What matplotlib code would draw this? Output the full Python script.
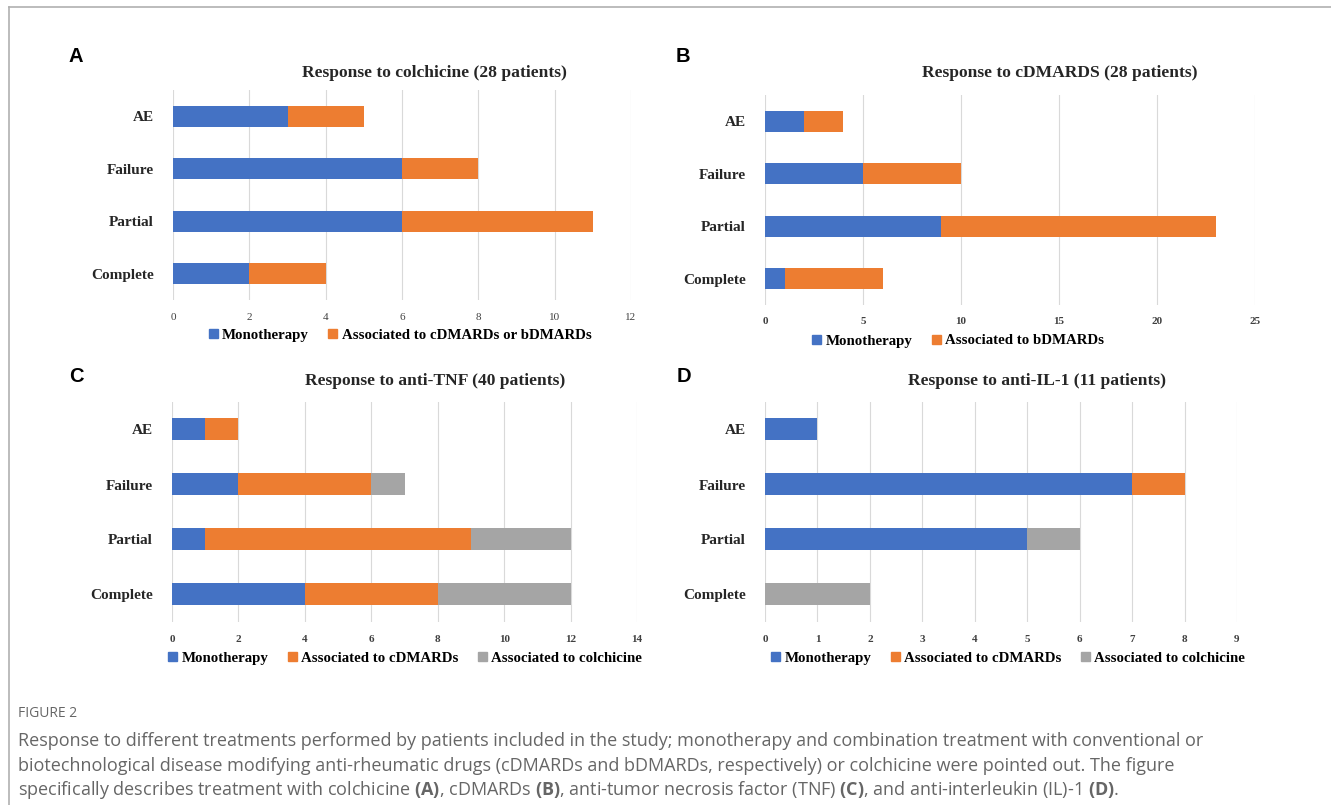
import numpy as np
import matplotlib.pyplot as plt
from matplotlib.patches import Patch

# categories, top to bottom
categories = ["AE", "Failure", "Partial", "Complete"]

# A - colchicine
a_mono = [3, 6, 6, 2]
a_assoc = [2, 2, 5, 2]
# B - cDMARDs
b_mono = [2, 5, 9, 1]
b_assoc = [2, 5, 14, 5]
# C - anti-TNF
c_mono = [1, 2, 1, 4]
c_cdmard = [1, 4, 8, 4]
c_colch = [0, 1, 3, 4]
# D - anti-IL-1
d_mono = [1, 7, 5, 0]
d_cdmard = [0, 1, 0, 0]
d_colch = [0, 0, 1, 2]

blue = "#4472C4"
orange = "#ED7D31"
grey = "#A5A5A5"
serif = "Liberation Serif"

plt.rcParams["mathtext.fontset"] = "custom"
plt.rcParams["mathtext.bf"] = "Open Sans:bold"
plt.rcParams["mathtext.rm"] = "Open Sans"

fig = plt.figure(figsize=(13.31, 8.05), dpi=100)
W, H = 1331.0, 805.0


def px_axes(left, top, right, bottom):
    return fig.add_axes([left / W, 1 - bottom / H, (right - left) / W, (bottom - top) / H])


def panel(ax, series, colors, xmax, step, bold_ticks):
    y = np.arange(len(categories))
    left = np.zeros(len(categories))
    for vals, col in zip(series, colors):
        ax.barh(y, vals, left=left, height=0.4, color=col, zorder=3)
        left = left + np.array(vals)
    ax.set_ylim(3.5, -0.5)
    ax.set_xlim(0, xmax)
    ax.set_xticks(np.arange(0, xmax + 0.01, step))
    ax.set_yticks(y)
    ax.set_yticklabels(categories, fontfamily=serif, fontweight="bold", fontsize=11, color="#262626")
    for lab in ax.get_xticklabels():
        lab.set_fontfamily(serif)
        lab.set_fontsize(8)
        lab.set_color("#404040")
        if bold_ticks:
            lab.set_fontweight("bold")
    ax.tick_params(length=0, pad=9)
    ax.tick_params(axis="y", pad=14)
    ax.grid(axis="x", color="#d9d9d9", linewidth=0.8, zorder=0)
    for s in ax.spines.values():
        s.set_visible(False)


def legend(names, colors, x, y):
    handles = [Patch(color=c) for c in colors]
    fig.legend(handles, names, loc="center", bbox_to_anchor=(x / W, 1 - y / H), ncol=len(names),
               frameon=False, handlelength=0.6, handleheight=0.6, handletextpad=0.3,
               columnspacing=1.3, prop={"family": serif, "weight": "bold", "size": 10.7})


axA = px_axes(173, 90, 631, 300)
panel(axA, [a_mono, a_assoc], [blue, orange], 12, 2, False)
axB = px_axes(765, 95, 1255, 305)
panel(axB, [b_mono, b_assoc], [blue, orange], 25, 5, True)
axC = px_axes(172, 402, 637, 622)
panel(axC, [c_mono, c_cdmard, c_colch], [blue, orange, grey], 14, 2, True)
axD = px_axes(765, 402, 1237, 622)
panel(axD, [d_mono, d_cdmard, d_colch], [blue, orange, grey], 9, 1, True)

titles = [("Response to colchicine (28 patients)", 434, 73),
          ("Response to cDMARDS (28 patients)", 1060, 73),
          ("Response to anti-TNF (40 patients)", 435, 381),
          ("Response to anti-IL-1 (11 patients)", 1037, 381)]
for t, x, y in titles:
    fig.text(x / W, 1 - y / H, t, ha="center", va="center", fontfamily=serif,
             fontweight="bold", fontsize=12.6, color="#262626")

for lab, x, y in [("A", 76, 56), ("B", 683, 56), ("C", 76, 376), ("D", 684, 376)]:
    fig.text(x / W, 1 - y / H, lab, ha="center", va="center", fontfamily="Liberation Sans",
             fontweight="bold", fontsize=14.5, color="black")

legend(["Monotherapy", "Associated to cDMARDs or bDMARDs"], [blue, orange], 400, 335)
legend(["Monotherapy", "Associated to bDMARDs"], [blue, orange], 958, 341)
legend(["Monotherapy", "Associated to cDMARDs", "Associated to colchicine"], [blue, orange, grey], 405, 658)
legend(["Monotherapy", "Associated to cDMARDs", "Associated to colchicine"], [blue, orange, grey], 1008, 658)

# frame lines (left and top)
fig.add_artist(plt.Line2D([9 / W, 9 / W], [0, 1 - 7 / H], color="#b0b0b0", linewidth=1.2))
fig.add_artist(plt.Line2D([9 / W, 1], [1 - 7 / H, 1 - 7 / H], color="#b0b0b0", linewidth=1.2))

cap = "#666666"
x0 = 18
fig.text(x0 / W, 1 - 713 / H, "FIGURE 2", ha="left", va="center", fontfamily="Open Sans",
         fontsize=10, color=cap)
lines = [
    "Response to different treatments performed by patients included in the study; monotherapy and combination treatment with conventional or",
    "biotechnological disease modifying anti-rheumatic drugs (cDMARDs and bDMARDs, respectively) or colchicine were pointed out. The figure",
    r"specifically describes treatment with colchicine $\mathbf{(A)}$, cDMARDs $\mathbf{(B)}$, "
    r"anti-tumor necrosis factor (TNF) $\mathbf{(C)}$, and anti-interleukin (IL)-1 $\mathbf{(D)}$.",
]
for i, ln in enumerate(lines):
    fig.text(x0 / W, 1 - (741 + 24.5 * i) / H, ln, ha="left", va="center", fontfamily="Open Sans",
             fontsize=13, color=cap)

fig.savefig("out.png", dpi=100)
